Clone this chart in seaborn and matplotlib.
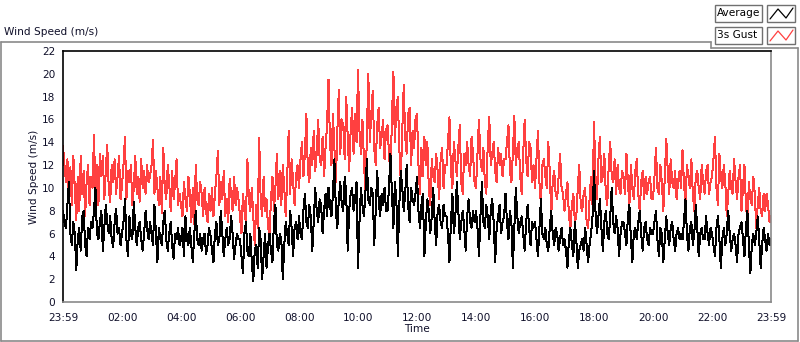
import numpy as np
import pandas as pd
import seaborn as sns
import matplotlib.pyplot as plt
from matplotlib.lines import Line2D
from matplotlib.patches import Rectangle
from matplotlib.ticker import FixedLocator

# 3s gust, one reading every 3 minutes from 23:59 (m/s), one row per hour
gust = [
    13.7, 12.0, 10.5, 12.5, 9.0, 11.8, 8.5, 12.8, 10.0, 7.2, 11.0, 8.0, 12.8, 9.5, 11.5, 7.5, 10.5, 12.0, 8.5, 11.0,
    10.0, 14.6, 9.5, 12.0, 8.5, 13.0, 11.0, 12.8, 9.0, 11.5, 13.8, 10.0, 8.8, 12.0, 10.5, 12.5, 9.5, 11.0, 12.8, 9.0,
    10.2, 12.0, 14.5, 9.0, 11.5, 10.5, 12.0, 8.5, 10.0, 12.8, 9.5, 11.0, 8.8, 12.5, 10.0, 11.5, 9.5, 12.0, 10.5, 11.0,
    12.0, 14.2, 9.5, 11.5, 10.0, 8.5, 11.0, 7.8, 13.5, 10.0, 9.0, 12.0, 10.5, 8.0, 11.5, 9.0, 10.5, 12.5, 8.5, 9.5,
    8.5, 7.5, 10.5, 9.0, 8.0, 11.0, 9.5, 7.0, 10.0, 6.8, 12.0, 9.0, 8.5, 10.5, 9.5, 7.5, 10.0, 8.0, 7.0, 9.5,
    8.0, 10.0, 7.5, 9.5, 11.0, 13.2, 8.5, 10.5, 9.0, 11.5, 7.5, 9.0, 7.0, 10.8, 9.5, 8.0, 11.0, 8.5, 10.0, 9.0,
    7.5, 6.0, 9.5, 8.0, 7.0, 12.5, 9.0, 8.0, 10.0, 7.5, 5.0, 8.5, 6.5, 14.4, 9.0, 7.5, 11.0, 8.0, 9.0, 6.5,
    6.0, 9.0, 11.0, 8.0, 10.0, 13.0, 9.0, 11.5, 8.5, 12.0, 10.0, 7.5, 11.0, 15.0, 9.5, 12.5, 10.5, 8.5, 11.0, 12.0,
    10.0, 12.5, 14.0, 11.0, 13.0, 16.5, 11.5, 10.5, 13.5, 12.0, 15.0, 11.5, 13.0, 16.0, 12.5, 12.0, 14.5, 11.0, 13.5, 15.5,
    19.5, 14.0, 12.0, 16.5, 13.5, 10.5, 15.0, 18.6, 13.0, 16.0, 15.5, 12.5, 18.0, 14.5, 11.5, 15.0, 17.0, 13.0, 16.5, 14.0,
    20.3, 15.0, 13.0, 16.0, 12.5, 9.5, 14.5, 20.0, 14.0, 16.5, 18.5, 13.5, 12.0, 15.5, 17.0, 13.5, 14.5, 16.0, 12.5, 15.0,
    15.5, 13.0, 11.0, 16.0, 20.2, 14.0, 17.0, 18.0, 13.5, 10.5, 15.0, 19.0, 14.5, 13.0, 16.5, 17.0, 12.0, 15.0, 13.5, 16.0,
    16.5, 12.0, 9.5, 13.5, 11.0, 14.5, 12.0, 14.0, 10.0, 8.5, 12.5, 11.0, 10.5, 13.0, 11.5, 9.0, 12.5, 13.5, 10.0, 12.0,
    12.0, 14.0, 16.2, 11.5, 10.0, 14.0, 12.5, 11.0, 13.5, 15.5, 10.5, 9.5, 13.0, 12.0, 14.0, 12.0, 11.0, 14.5, 13.0, 10.5,
    10.0, 13.0, 16.0, 12.5, 11.5, 13.5, 10.5, 9.5, 14.0, 16.2, 12.0, 13.0, 14.0, 11.5, 10.5, 13.5, 12.0, 13.0, 11.0, 12.5,
    12.5, 14.0, 15.5, 11.5, 10.5, 13.0, 16.3, 12.0, 13.5, 14.0, 11.0, 9.5, 13.0, 16.0, 12.5, 11.0, 14.0, 13.5, 10.5, 12.0,
    10.0, 12.5, 15.0, 10.5, 8.5, 12.0, 12.5, 11.0, 10.0, 14.0, 11.5, 7.5, 10.5, 11.5, 9.5, 9.0, 11.0, 13.0, 10.0, 9.5,
    8.0, 9.5, 10.5, 7.5, 6.5, 8.5, 9.5, 7.0, 7.5, 10.0, 12.0, 8.5, 8.0, 9.5, 10.0, 7.0, 6.5, 9.0, 11.0, 8.5,
    15.8, 11.0, 9.0, 12.5, 14.5, 10.5, 11.0, 13.0, 9.5, 8.5, 12.0, 14.0, 11.0, 10.5, 12.5, 9.5, 12.0, 10.0, 9.5, 11.5,
    11.0, 9.5, 13.0, 10.5, 8.5, 12.0, 10.0, 9.0, 11.5, 12.5, 9.5, 8.0, 10.5, 11.5, 9.0, 11.0, 9.5, 10.5, 11.0, 9.0,
    9.0, 11.0, 13.5, 10.0, 9.5, 12.0, 10.5, 8.0, 11.0, 14.3, 11.5, 9.5, 12.5, 10.5, 10.0, 11.5, 9.0, 10.5, 11.5, 10.0,
    13.3, 10.5, 8.5, 12.0, 11.0, 10.0, 12.5, 9.5, 8.0, 11.0, 11.5, 10.0, 9.0, 12.0, 10.5, 9.5, 11.5, 12.0, 9.5, 10.5,
    11.0, 12.5, 14.5, 10.0, 8.5, 13.0, 11.0, 10.0, 12.0, 10.5, 7.5, 9.5, 11.5, 10.0, 9.5, 12.5, 10.5, 9.0, 11.0, 12.0,
    8.0, 10.0, 12.0, 8.5, 7.0, 10.5, 9.0, 8.5, 11.0, 9.5, 6.5, 8.5, 10.0, 8.0, 7.5, 9.5, 8.0, 9.5, 8.5, 7.0,
    7.5,
]

# average wind speed at the same timestamps (m/s)
average = [
    8.0, 7.0, 6.5, 8.5, 10.5, 6.0, 5.0, 7.0, 6.0, 2.8, 5.5, 6.5, 4.5, 7.5, 8.0, 5.0, 4.0, 6.5, 5.5, 7.0,
    6.5, 8.0, 10.0, 6.0, 5.5, 7.0, 8.0, 4.5, 6.5, 8.5, 7.0, 6.0, 7.5, 5.5, 4.8, 7.0, 8.2, 6.0, 6.5, 5.0,
    6.0, 7.0, 9.0, 5.5, 4.0, 7.5, 6.0, 5.5, 8.8, 6.5, 5.0, 6.5, 7.0, 5.5, 4.5, 6.0, 8.0, 6.5, 5.5, 7.0,
    6.0, 5.0, 8.5, 6.0, 3.5, 6.5, 5.5, 5.0, 7.0, 8.0, 5.5, 4.5, 6.0, 7.0, 5.0, 3.8, 6.0, 5.5, 6.5, 5.0,
    5.5, 6.5, 4.0, 7.5, 5.5, 5.0, 6.5, 5.0, 3.5, 6.0, 8.0, 5.5, 5.0, 6.0, 4.5, 5.5, 6.0, 4.2, 5.0, 6.5,
    5.8, 4.5, 3.5, 6.0, 7.0, 5.0, 5.5, 8.0, 6.0, 4.0, 5.5, 6.5, 5.0, 5.5, 7.5, 6.0, 3.8, 5.0, 6.0, 5.5,
    5.5, 4.0, 2.5, 6.0, 7.0, 4.5, 4.0, 6.0, 3.5, 1.8, 4.5, 5.0, 3.0, 6.5, 5.5, 2.0, 4.0, 6.0, 3.0, 5.0,
    6.0, 4.5, 3.5, 7.0, 8.5, 5.0, 4.5, 6.0, 5.5, 2.0, 5.0, 7.0, 6.0, 5.0, 8.0, 6.5, 4.0, 6.5, 7.0, 5.5,
    7.5, 6.0, 5.5, 8.0, 9.5, 7.0, 6.5, 8.5, 7.5, 4.5, 7.0, 10.0, 8.0, 7.0, 9.0, 8.5, 6.0, 8.0, 9.5, 7.5,
    10.0, 8.5, 7.5, 9.5, 12.5, 8.0, 6.5, 9.0, 10.5, 8.5, 8.0, 11.0, 9.5, 4.5, 8.0, 9.5, 10.0, 8.0, 9.0, 10.5,
    3.0, 7.0, 10.0, 8.5, 7.5, 9.5, 12.5, 9.0, 8.5, 10.0, 9.5, 5.0, 8.0, 11.5, 9.0, 7.5, 9.5, 8.5, 10.0, 8.0,
    8.0, 10.0, 13.0, 9.5, 6.5, 10.5, 9.0, 4.0, 8.5, 11.5, 10.0, 8.0, 9.5, 12.0, 8.5, 7.0, 10.0, 9.0, 8.5, 9.5,
    11.0, 8.0, 6.5, 8.5, 9.5, 4.0, 7.0, 9.0, 8.0, 6.0, 7.5, 10.0, 7.0, 5.0, 8.0, 8.5, 7.0, 6.5, 8.5, 7.5,
    7.5, 6.0, 3.5, 7.0, 9.5, 6.0, 7.5, 10.5, 8.0, 5.5, 7.0, 8.0, 6.5, 4.5, 7.5, 9.0, 7.0, 6.5, 8.0, 7.0,
    8.0, 6.5, 4.0, 7.5, 10.5, 7.0, 6.5, 8.5, 7.5, 5.5, 8.0, 9.0, 7.0, 3.5, 6.5, 7.5, 8.5, 6.0, 7.0, 7.5,
    9.5, 7.0, 5.5, 8.0, 7.0, 3.0, 6.5, 10.0, 7.5, 6.0, 7.0, 7.5, 6.0, 4.5, 7.0, 8.5, 6.5, 5.0, 7.0, 6.5,
    7.0, 5.5, 4.0, 6.5, 9.0, 6.0, 5.5, 6.5, 5.0, 4.5, 6.5, 8.0, 6.0, 5.0, 6.5, 6.0, 4.5, 5.5, 6.5, 5.0,
    5.5, 4.5, 3.0, 5.5, 6.5, 5.0, 4.0, 7.0, 5.5, 3.0, 4.5, 5.0, 5.5, 4.5, 6.5, 5.0, 3.5, 5.0, 6.0, 7.5,
    11.5, 8.0, 6.0, 7.5, 9.0, 6.5, 4.5, 7.0, 8.0, 6.0, 5.5, 7.5, 10.0, 7.0, 6.0, 7.5, 6.5, 4.0, 6.0, 7.0,
    7.0, 6.0, 5.0, 7.5, 8.5, 5.5, 3.5, 6.0, 6.5, 5.5, 7.0, 8.0, 6.0, 4.5, 6.5, 7.0, 5.5, 5.0, 6.5, 6.0,
    6.0, 7.0, 8.0, 5.5, 4.0, 6.5, 6.0, 3.5, 5.5, 7.5, 6.0, 5.0, 6.5, 7.0, 5.5, 4.5, 6.0, 6.5, 5.5, 6.0,
    5.5, 7.0, 9.0, 6.0, 4.5, 6.5, 7.0, 5.0, 6.0, 8.5, 6.5, 4.0, 6.0, 6.5, 5.5, 5.5, 7.5, 6.0, 5.0, 6.5,
    6.0, 5.0, 4.0, 6.5, 7.5, 5.5, 3.0, 5.5, 6.5, 5.0, 6.0, 8.0, 6.0, 4.5, 5.5, 6.0, 5.0, 3.5, 6.0, 6.5,
    7.0, 5.5, 4.0, 6.5, 8.0, 5.0, 2.5, 5.0, 6.0, 5.0, 6.0, 7.5, 5.5, 3.0, 5.0, 6.5, 5.5, 4.5, 6.0, 5.0,
    5.5,
]

tick_labels = ["23:59", "02:00", "04:00", "06:00", "08:00", "10:00", "12:00",
               "14:00", "16:00", "18:00", "20:00", "22:00", "23:59"]

minutes = np.arange(len(gust)) * 3  # minutes after 23:59
df = pd.DataFrame({
    "minute": np.concatenate([minutes, minutes]),
    "speed": gust + average,
    "series": ["3s Gust"] * len(gust) + ["Average"] * len(average),
})

sns.set_style("white")
plt.rcParams["font.family"] = ["DejaVu Sans"]
plt.rcParams["font.size"] = 7.6
txt = "#10102a"
W, H = 800, 342

fig = plt.figure(figsize=(8, 3.42), dpi=100)
ax = fig.add_axes([63 / W, 1 - 302 / H, 708 / W, 251 / H])

sns.lineplot(data=df, x="minute", y="speed", hue="series",
             hue_order=["3s Gust", "Average"],
             palette={"3s Gust": "#ff4040", "Average": "black"},
             linewidth=0.72, antialiased=False, legend=False, ax=ax)

ax.set_xlim(0, 1440)
ax.set_ylim(0, 22)
ax.set_yticks(np.arange(0, 23, 2))
ax.set_xticks([0] + [121 + 120 * i for i in range(11)] + [1440])
ax.set_xticklabels(tick_labels)
ax.xaxis.set_minor_locator(FixedLocator(np.arange(1, 1440, 15)))
ax.tick_params(axis="x", which="major", length=5, width=1.2, direction="out",
               colors="black", labelcolor=txt, pad=3)
ax.tick_params(axis="x", which="minor", length=3, width=0.8, direction="out",
               colors="black")
ax.tick_params(axis="y", length=4, width=1, direction="out", colors="black",
               labelcolor=txt, pad=1.5)
ax.set_xlabel("Time", color=txt, labelpad=1)
ax.set_ylabel("Wind Speed (m/s)", color=txt, labelpad=2)

for side in ["left", "top"]:
    ax.spines[side].set_color("black")
    ax.spines[side].set_linewidth(1.2)
for side in ["right", "bottom"]:
    ax.spines[side].set_color("#8a8a8a")
    ax.spines[side].set_linewidth(1.2)

# chart caption and outer frame
fig.text(4 / W, 1 - 32 / H, "Wind Speed (m/s)", color=txt, va="center", ha="left")
frame = [(1, 341, 1, 42), (1, 42, 711, 42), (711, 42, 711, 48), (711, 48, 798, 48),
         (798, 48, 798, 341), (1, 341, 798, 341)]
for x0, y0, x1, y1 in frame:
    fig.add_artist(Line2D([x0 / W, x1 / W], [1 - y0 / H, 1 - y1 / H],
                          transform=fig.transFigure, color="#8a8a8a", lw=1.2))

# legend, LabVIEW style: name box + line sample box
for i, (name, col) in enumerate([("Average", "black"), ("3s Gust", "#ff4040")]):
    top = 5 + i * 22
    fig.add_artist(Rectangle((715 / W, 1 - (top + 17) / H), 47 / W, 17 / H,
                             transform=fig.transFigure, facecolor="white",
                             edgecolor="#707070", lw=1))
    fig.text(717 / W, 1 - (top + 8.5) / H, name, color="black", va="center",
             ha="left", fontsize=7.6)
    fig.add_artist(Rectangle((767 / W, 1 - (top + 17) / H), 28 / W, 17 / H,
                             transform=fig.transFigure, facecolor="white",
                             edgecolor="#707070", lw=1))
    fig.add_artist(Line2D([x / W for x in [770, 778, 786, 793]],
                          [1 - y / H for y in [top + 14, top + 4, top + 13, top + 3]],
                          transform=fig.transFigure, color=col, lw=0.9))

fig.savefig("out.png", dpi=100)
